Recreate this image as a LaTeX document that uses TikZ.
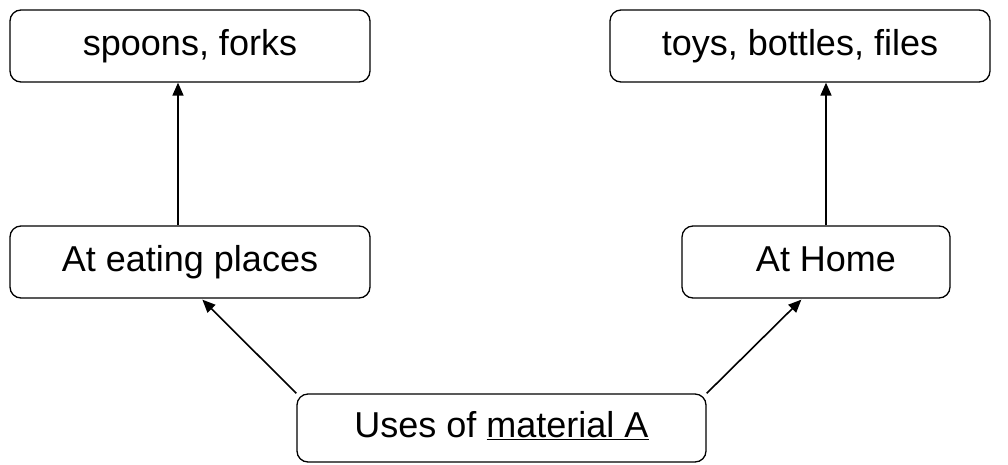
\documentclass[tikz,border=0pt]{standalone}
\usepackage{fontspec}
\setmainfont{Liberation Sans}
\usetikzlibrary{arrows.meta,calc}
\begin{document}
\begin{tikzpicture}[x=1pt,y=-1pt,
  box/.style={draw=black,line width=1.3pt,rounded corners=11pt,inner sep=0pt,
    minimum height=72pt,text height=26pt,text depth=7pt,font=\fontsize{36}{43}\selectfont},
  arr/.style={line width=1.6pt,-{Triangle[length=13pt,width=11pt]}}]
\useasboundingbox (0,0) rectangle (1008,464);
\node[box,minimum width=360pt] (spoons) at (190,46) {spoons, forks};
\node[box,minimum width=380pt] (toys) at (800,46) {toys, bottles, files};
\node[box,minimum width=360pt] (eat) at (190,262) {At eating places};
\node[box,minimum width=268pt] (home) at (816,262) {\hspace*{20pt}At Home};
\node[box,minimum width=409pt,minimum height=68pt] (uses) at (501.5,428) {Uses of \underline{material A}};
\draw[arr] ($(eat.north)+(-12,0)$) -- ($(spoons.south)+(-12,0)$);
\draw[arr] ($(home.north)+(10,0)$) -- ($(home.north |- toys.south)+(10,0)$);
\draw[arr] (uses.north west) -- ($(eat.south west)+(193,1)$);
\draw[arr] (uses.north east) -- ($(home.south west)+(120,1)$);
\end{tikzpicture}
\end{document}
